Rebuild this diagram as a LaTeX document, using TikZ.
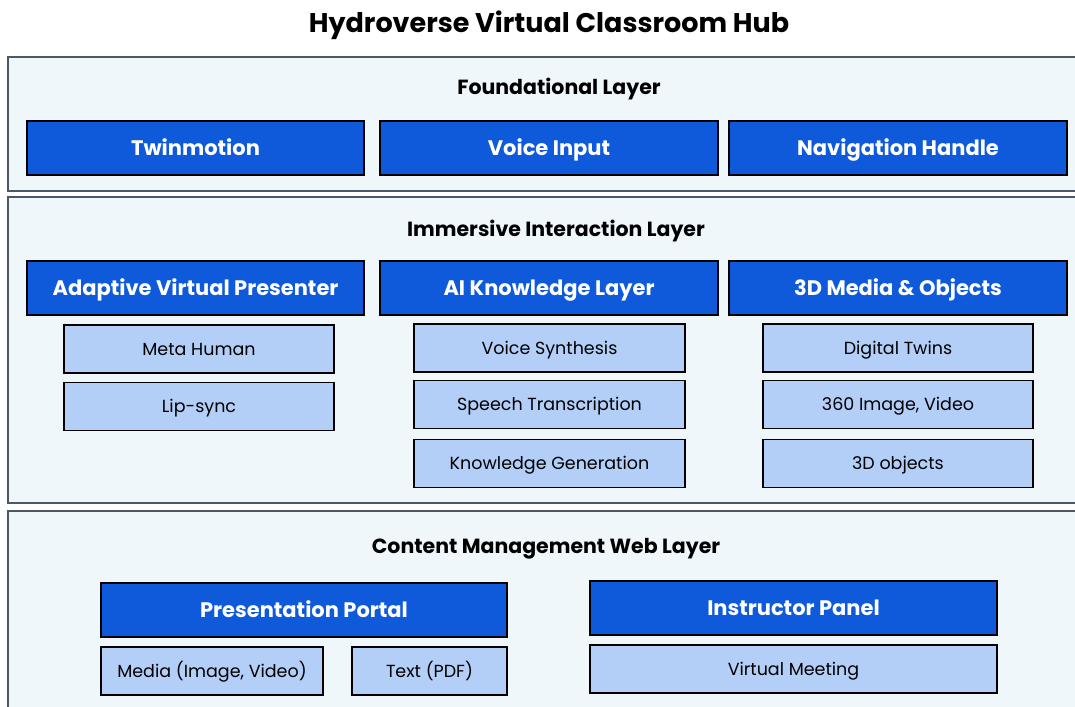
\documentclass[tikz,border=0pt]{standalone}
\usepackage{fontspec}
\setmainfont{Poppins}
\definecolor{layerfill}{HTML}{F0F7FB}
\definecolor{layerline}{HTML}{4A5868}
\definecolor{headblue}{HTML}{0F5ADB}
\definecolor{subblue}{HTML}{B3CEF7}
\tikzset{
  layerbox/.style={draw=layerline, line width=1.6pt, fill=layerfill},
  layertitle/.style={text height=14.3pt, text depth=0pt, anchor=center,
    font=\bfseries\fontsize{20.5}{24}\selectfont, text=black, inner sep=0pt},
  headbox/.style={text height=14.7pt, text depth=0pt, anchor=center,
    draw=black, line width=1.6pt, fill=headblue, text=white,
    font=\bfseries\fontsize{21}{24}\selectfont, inner sep=0pt, minimum height=54pt},
  subbox/.style={text height=12.2pt, text depth=0pt, anchor=center,
    draw=black, line width=1.3pt, fill=subblue, text=black,
    font=\fontsize{17.5}{20}\selectfont, inner sep=0pt, minimum height=48pt},
}
\begin{document}
\begin{tikzpicture}[x=1pt, y=-1pt]
\useasboundingbox (0,0) rectangle (1075,706);
\clip (0,0) rectangle (1075,706);

% title
\node[text height=18.9pt, text depth=0pt, anchor=center,
  font=\bfseries\fontsize{27}{30}\selectfont, inner sep=0pt] (title) at (549,23) {Hydroverse Virtual Classroom Hub};

% layer frames
\draw[layerbox] (8,57) rectangle (1090,191);
\draw[layerbox] (8,197) rectangle (1090,503);
\draw[layerbox] (8,511) rectangle (1090,720);

% foundational layer
\node[layertitle] (l1) at (559,87) {Foundational Layer};
\node[headbox, minimum width=337pt] (twin) at (195.5,148) {Twinmotion};
\node[headbox, minimum width=338pt] (voice) at (549,148) {Voice Input};
\node[headbox, minimum width=338pt] (nav) at (898,148) {Navigation Handle};

% immersive interaction layer
\node[layertitle] (l2) at (556,229) {Immersive Interaction Layer};
\node[headbox, minimum width=337pt] (avp) at (195.5,288) {Adaptive Virtual Presenter};
\node[headbox, minimum width=338pt] (ai) at (549,288) {AI Knowledge Layer};
\node[headbox, minimum width=338pt] (media3d) at (898,288) {3D Media \& Objects};

\node[subbox, minimum width=270pt] (meta) at (199,349) {Meta Human};
\node[subbox, minimum width=270pt] (lip) at (199,406.5) {Lip-sync};

\node[subbox, minimum width=271pt] (vsyn) at (549.5,348) {Voice Synthesis};
\node[subbox, minimum width=271pt] (stt) at (549.5,404.5) {Speech Transcription};
\node[subbox, minimum width=271pt] (kgen) at (549.5,463.5) {Knowledge Generation};

\node[subbox, minimum width=270pt] (dtw) at (898,348) {Digital Twins};
\node[subbox, minimum width=270pt] (img360) at (898,404.5) {360 Image, Video};
\node[subbox, minimum width=270pt] (obj3d) at (898,463.5) {3D objects};

% content management web layer
\node[layertitle] (l3) at (546,546) {Content Management Web Layer};
\node[headbox, minimum width=406pt] (portal) at (304,610) {Presentation Portal};
\node[subbox, minimum width=222pt] (mediaiv) at (212,671) {Media (Image, Video)};
\node[subbox, minimum width=155pt] (pdf) at (429.5,671) {Text (PDF)};
\node[headbox, minimum width=407pt] (instr) at (793.5,608) {Instructor Panel};
\node[subbox, minimum width=407pt] (meet) at (793.5,669) {Virtual Meeting};
\end{tikzpicture}
\end{document}
